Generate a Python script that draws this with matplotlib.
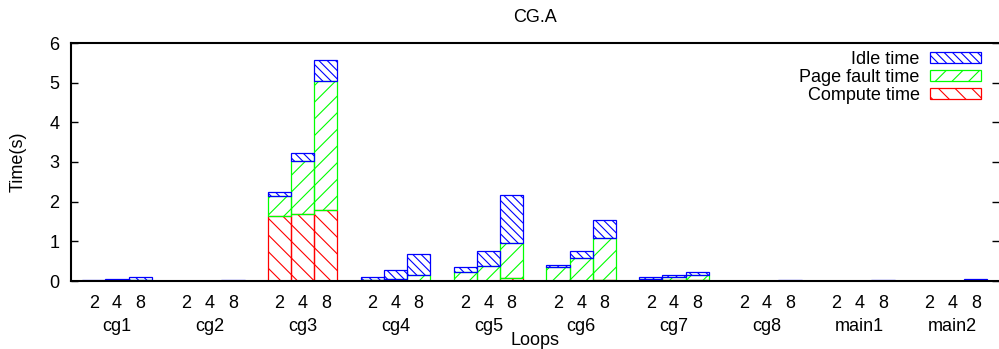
import numpy as np
import matplotlib.pyplot as plt

plt.rcParams['font.family'] = ['Liberation Sans', 'DejaVu Sans']
plt.rcParams['hatch.linewidth'] = 0.8

grupos = ['cg1', 'cg2', 'cg3', 'cg4', 'cg5', 'cg6', 'cg7', 'cg8', 'main1', 'main2']
hilos = ['2', '4', '8']

# valores por grupo (2, 4, 8 hilos), en segundos
computo = [[0.0, 0.0, 0.0], [0.0, 0.0, 0.0], [1.65, 1.70, 1.78],
           [0.01, 0.01, 0.01], [0.01, 0.01, 0.08], [0.01, 0.01, 0.02],
           [0.02, 0.02, 0.02], [0.0, 0.0, 0.0], [0.0, 0.0, 0.0], [0.0, 0.0, 0.0]]
fallos = [[0.0, 0.01, 0.03], [0.0, 0.0, 0.0], [0.50, 1.32, 3.25],
          [0.02, 0.05, 0.13], [0.21, 0.38, 0.88], [0.34, 0.56, 1.07],
          [0.04, 0.07, 0.14], [0.0, 0.0, 0.0], [0.0, 0.0, 0.0], [0.0, 0.0, 0.01]]
ocioso = [[0.02, 0.03, 0.06], [0.01, 0.01, 0.015], [0.10, 0.20, 0.54],
          [0.08, 0.21, 0.53], [0.14, 0.37, 1.20], [0.06, 0.19, 0.46],
          [0.03, 0.05, 0.07], [0.01, 0.01, 0.015], [0.01, 0.01, 0.015], [0.01, 0.01, 0.03]]

computo = np.array(computo).ravel()
fallos = np.array(fallos).ravel()
ocioso = np.array(ocioso).ravel()
posiciones = np.array([4 * i + j for i in range(len(grupos)) for j in range(len(hilos))])

fig = plt.figure(figsize=(9.99, 3.49), dpi=100)
ax = fig.add_axes([70.5 / 999, 1 - 281 / 349, 1 - 70.5 / 999, 238 / 349])

estilo = dict(width=1.0, color='none', linewidth=0.9)
b1 = ax.bar(posiciones, computo, edgecolor='#ff0000', hatch='\\\\', **estilo)
b2 = ax.bar(posiciones, fallos, bottom=computo, edgecolor='#00ff00', hatch='//', **estilo)
b3 = ax.bar(posiciones, ocioso, bottom=computo + fallos, edgecolor='#0000ff', hatch='\\\\\\\\', **estilo)

ax.set_xlim(-1, 39)
ax.set_ylim(0, 6)
ax.set_yticks(range(7))
ax.tick_params(axis='y', direction='in', length=5, width=1, labelsize=13, pad=8, right=True)
ax.set_xticks(posiciones)
ax.set_xticklabels(hilos * len(grupos))
ax.tick_params(axis='x', length=0, labelsize=13, pad=10)

for lado in ['left', 'top', 'bottom']:
    ax.spines[lado].set_linewidth(1.5)
ax.spines['right'].set_visible(False)

for i, g in enumerate(grupos):
    ax.text(4 * i + 1, -0.193, g, transform=ax.get_xaxis_transform(),
            ha='center', va='center', fontsize=13)

ax.text(0.5, -0.25, 'Loops', transform=ax.transAxes, ha='center', va='center', fontsize=13)
fig.text(18 / 999, 1 - 162 / 349, 'Time(s)', rotation=90, ha='center', va='center', fontsize=13)
fig.text(535 / 999, 1 - 17 / 349, 'CG.A', ha='center', va='center', fontsize=13)

ax.legend([b3, b2, b1], ['Idle time', 'Page fault time', 'Compute time'],
          loc='upper right', bbox_to_anchor=(981 / 999, 1 - 51 / 349), bbox_transform=fig.transFigure,
          markerfirst=False, frameon=False, fontsize=13, handlelength=2.8, handleheight=0.5,
          labelspacing=0.05, handletextpad=0.6, borderpad=0, borderaxespad=0)

fig.savefig('out.png', dpi=100)
